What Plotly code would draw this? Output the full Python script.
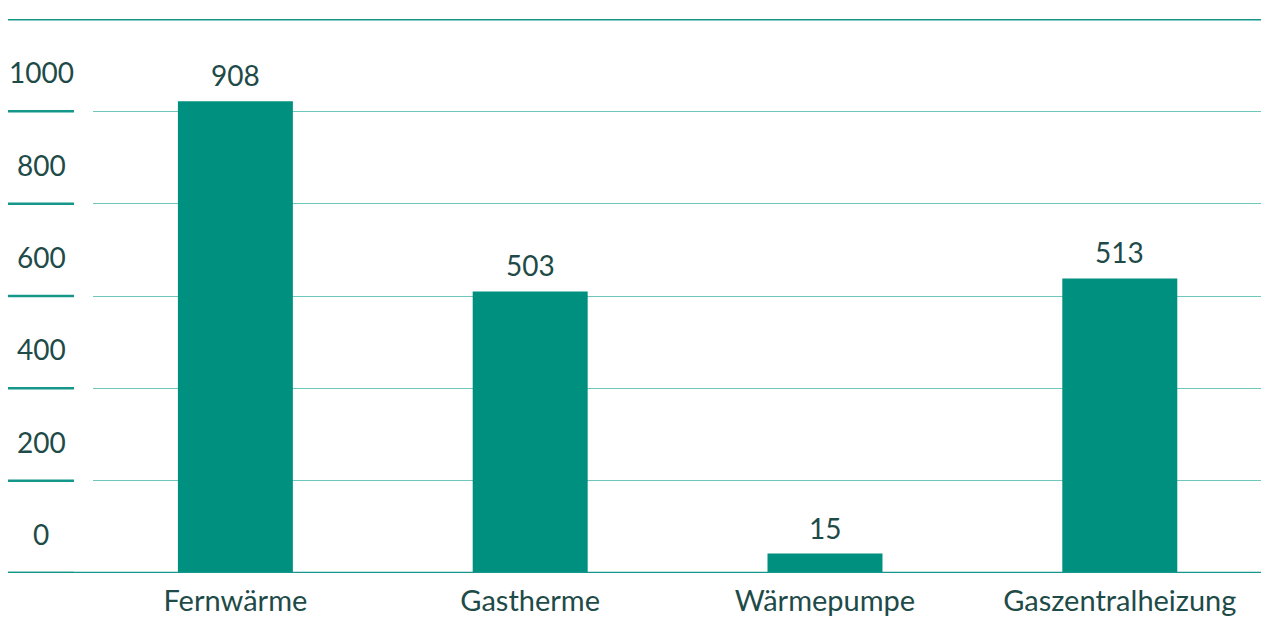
import plotly.graph_objects as go

# Data
categories = ["Fernwärme", "Gastherme", "Wärmepumpe", "Gaszentralheizung"]
value_labels = [908, 503, 15, 513]          # printed values
bar_heights = [1022, 610, 42, 638]          # heights as drawn against the axis
y_ticks = [0, 200, 400, 600, 800, 1000]
y_top = 1200

BAR = "#00907f"
LINE = "#14968a"
GRID = "#6fc6ba"
TEXT = "#1e4b48"
FONT = "Lato"
FS = 27

W, H = 1261, 617
ML, MR, MT, MB = 93, 0, 19, 42
pw = W - ML - MR

def px_to_paper(px):
    return (px - ML) / pw

fig = go.Figure()
fig.add_trace(go.Bar(
    x=categories, y=bar_heights,
    marker=dict(color=BAR, line=dict(width=0)),
    width=0.39,
    cliponaxis=False,
    hoverinfo="skip",
))

shapes = []
for v in y_ticks:
    shapes.append(dict(type="line", xref="paper", yref="y",
                       x0=px_to_paper(8), x1=px_to_paper(74), y0=v, y1=v,
                       line=dict(color=LINE, width=2.5), layer="above"))
shapes.append(dict(type="line", xref="paper", yref="y",
                   x0=px_to_paper(8), x1=1, y0=0, y1=0,
                   line=dict(color=LINE, width=2.5), layer="above"))
shapes.append(dict(type="line", xref="paper", yref="y",
                   x0=px_to_paper(8), x1=1, y0=y_top, y1=y_top,
                   line=dict(color=LINE, width=3), layer="above"))

annotations = []
for v in y_ticks:
    annotations.append(dict(xref="paper", yref="y", x=px_to_paper(41), y=v,
                            text=str(v), showarrow=False, xanchor="center",
                            yanchor="middle", yshift=39,
                            font=dict(family=FONT, size=FS + 1, color=TEXT)))
for c, h, lab in zip(categories, bar_heights, value_labels):
    annotations.append(dict(xref="x", yref="y", x=c, y=h, text=str(lab),
                            showarrow=False, xanchor="center", yanchor="middle",
                            yshift=26,
                            font=dict(family=FONT, size=FS + 1, color=TEXT)))

fig.update_layout(
    width=W, height=H,
    margin=dict(l=ML, r=MR, t=MT, b=MB),
    plot_bgcolor="white", paper_bgcolor="white",
    showlegend=False,
    shapes=shapes, annotations=annotations,
    font=dict(family=FONT, size=FS, color=TEXT),
    xaxis=dict(range=[-0.483, 3.479], showgrid=False, zeroline=False,
               showline=False, ticks="", ticklabelstandoff=8,
               tickfont=dict(family=FONT, size=FS + 2, color=TEXT),
               fixedrange=True),
    yaxis=dict(range=[0, y_top], tickvals=y_ticks[1:], showticklabels=False,
               showgrid=True, gridcolor=GRID, gridwidth=1, zeroline=False,
               showline=False, ticks="", fixedrange=True),
)

fig.write_html("out.html", config={"displayModeBar": False})
